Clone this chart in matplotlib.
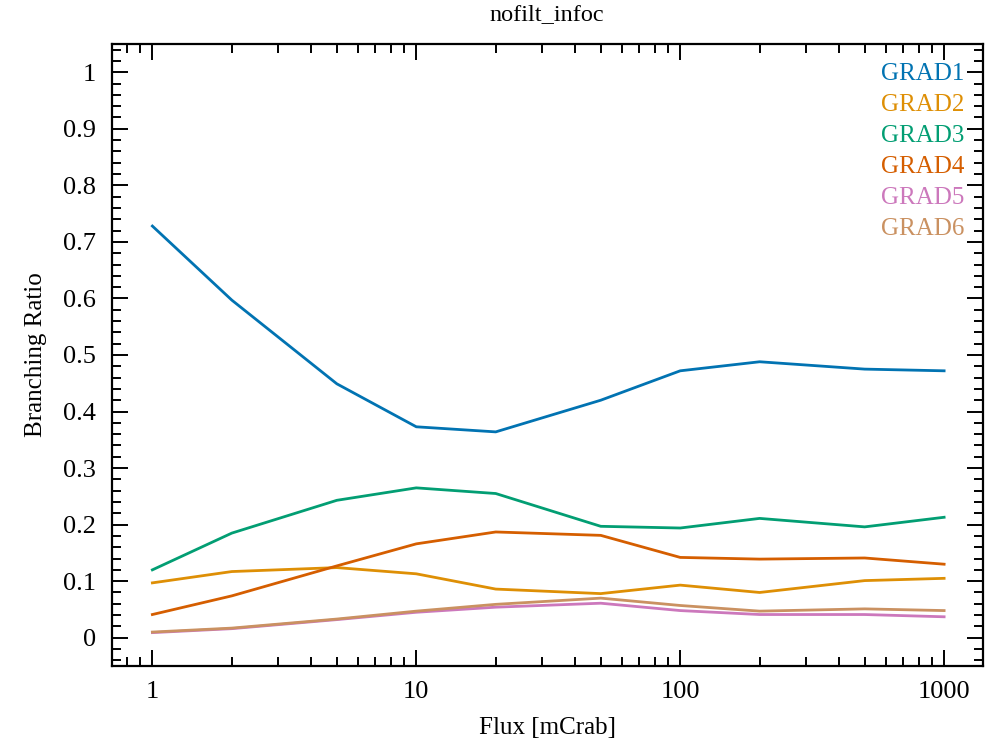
import numpy as np
import matplotlib
matplotlib.use("Agg")
import matplotlib.pyplot as plt
from matplotlib.ticker import MultipleLocator, LogLocator, NullFormatter

# Flux points (mCrab) and branching ratios
flux = [1, 2, 5, 10, 20, 50, 100, 200, 500, 1000]
grad1 = [0.728, 0.597, 0.449, 0.373, 0.364, 0.420, 0.472, 0.488, 0.475, 0.472]
grad2 = [0.097, 0.117, 0.124, 0.113, 0.086, 0.078, 0.093, 0.080, 0.101, 0.105]
grad3 = [0.120, 0.185, 0.243, 0.265, 0.255, 0.197, 0.194, 0.211, 0.196, 0.213]
grad4 = [0.041, 0.074, 0.127, 0.166, 0.187, 0.181, 0.142, 0.139, 0.141, 0.130]
grad5 = [0.009, 0.016, 0.032, 0.045, 0.054, 0.061, 0.048, 0.041, 0.041, 0.037]
grad6 = [0.010, 0.017, 0.033, 0.047, 0.059, 0.070, 0.057, 0.047, 0.051, 0.048]

labels = ["GRAD1", "GRAD2", "GRAD3", "GRAD4", "GRAD5", "GRAD6"]
colors = ["#0173B2", "#DE8F05", "#029E73", "#D55E00", "#CC78BC", "#CA9161"]
series = [grad1, grad2, grad3, grad4, grad5, grad6]

plt.rcParams['font.family'] = ['Liberation Serif', 'DejaVu Serif']

fig = plt.figure(figsize=(9.92, 7.39), dpi=100)
ax = fig.add_axes([0.1124, 0.0988, 0.8782, 0.8417])

for vals, lab, col in zip(series, labels, colors):
    ax.plot(flux, vals, color=col, lw=2.0, label=lab)

ax.set_xscale("log")
ax.set_xlim(0.7, 1400)
ax.set_ylim(-0.05, 1.05)

ax.set_xticks([1, 10, 100, 1000])
ax.set_xticklabels(["1", "10", "100", "1000"])
ax.xaxis.set_minor_locator(LogLocator(base=10, subs=np.arange(2, 10)))
ax.xaxis.set_minor_formatter(NullFormatter())
ax.set_yticks(np.arange(0, 1.01, 0.1))
ax.set_yticklabels(["0"] + [f"{v:.1f}" for v in np.arange(0.1, 0.95, 0.1)] + ["1"])
ax.yaxis.set_minor_locator(MultipleLocator(0.02))

ax.tick_params(which="both", direction="in", top=True, right=True, labelsize=19, width=1.4)
ax.tick_params(which="major", length=11.5)
ax.tick_params(which="minor", length=6.5)
ax.tick_params(axis="x", which="major", pad=11)
ax.tick_params(axis="y", which="major", pad=11)
for sp in ax.spines.values():
    sp.set_linewidth(1.6)

ax.set_xlabel("Flux [mCrab]", fontsize=18, labelpad=10)
ax.set_ylabel("Branching Ratio", fontsize=18, labelpad=12)
ax.set_title("nofilt_infoc", fontsize=17.5, pad=17)

leg = ax.legend(loc="upper right", frameon=False, handlelength=0, handletextpad=0,
                markerfirst=False, labelcolor="linecolor", fontsize=18,
                labelspacing=0.34, borderaxespad=0.35)
for h in leg.legend_handles:
    h.set_visible(False)

fig.savefig("out.png", dpi=100)
